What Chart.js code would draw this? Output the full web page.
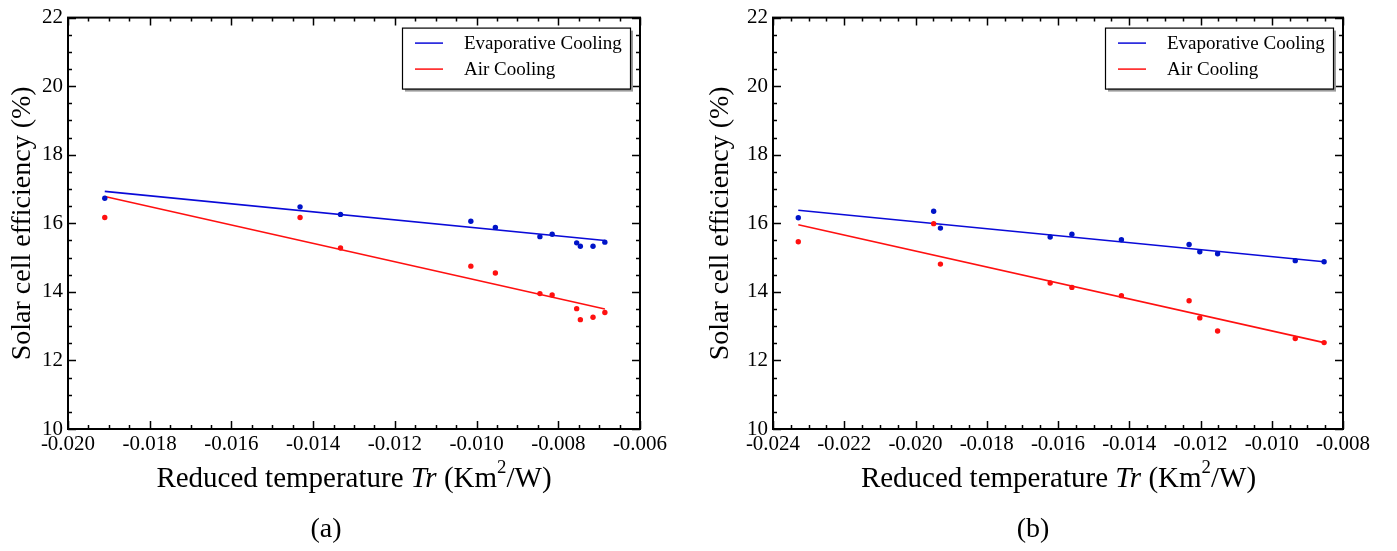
<!DOCTYPE html>
<html>
<head>
<meta charset="utf-8">
<script src="https://cdn.jsdelivr.net/npm/chart.js@4.4.1/dist/chart.umd.min.js"></script>
<style>
  html, body { margin: 0; padding: 0; background: #fff; }
  #wrap { position: relative; width: 1397px; height: 551px; overflow: hidden; font-family: "Liberation Serif", "DejaVu Serif", serif; }
  canvas { position: absolute; top: 0; }
  .xtitle { position: absolute; font-size: 29px; line-height: 29px; text-align: center; color: #000; white-space: nowrap; }
  .xtitle sup { font-size: 0.65em; position: relative; top: -0.2em; line-height: 0; }
  .caption { position: absolute; font-size: 28px; line-height: 28px; width: 80px; text-align: center; color: #000; }
</style>
</head>
<body>
<div id="wrap">
  <canvas id="chartA" width="698" height="551" style="left:0"></canvas>
  <canvas id="chartB" width="699" height="551" style="left:698px"></canvas>
  <div class="xtitle" style="left:68px; width:572px; top:463px">Reduced temperature <i>Tr</i> (Km<sup>2</sup>/W)</div>
  <div class="xtitle" style="left:773px; width:571px; top:463px">Reduced temperature <i>Tr</i> (Km<sup>2</sup>/W)</div>
  <div class="caption" style="left:286px; top:514px">(a)</div>
  <div class="caption" style="left:993px; top:514px">(b)</div>
</div>
<script>
// ---- dados (a) ----
const trA = [-0.0191, -0.01432, -0.01333, -0.01014, -0.00954, -0.00845, -0.00815, -0.00755, -0.00746, -0.00715, -0.00686];
const evapA = [16.73, 16.48, 16.26, 16.06, 15.88, 15.61, 15.68, 15.43, 15.33, 15.33, 15.45];
const airA = [16.17, 16.17, 15.28, 14.75, 14.55, 13.95, 13.91, 13.51, 13.19, 13.26, 13.40];
const fitTrA = [-0.0191, -0.00686];
const fitEvapA = [16.93, 15.50];
const fitAirA = [16.78, 13.50];

// ---- dados (b) ----
const trB = [-0.02329, -0.01949, -0.0193, -0.01622, -0.01561, -0.01422, -0.01232, -0.01202, -0.01152, -0.00934, -0.00853];
const evapB = [16.16, 16.35, 15.86, 15.60, 15.68, 15.52, 15.38, 15.17, 15.11, 14.91, 14.88];
const airB = [15.46, 15.99, 14.81, 14.26, 14.13, 13.89, 13.74, 13.24, 12.86, 12.64, 12.52];
const fitTrB = [-0.02329, -0.00853];
const fitEvapB = [16.38, 14.88];
const fitAirB = [15.96, 12.52];

const seriesNames = ['Evaporative Cooling', 'Air Cooling'];
const yTitle = 'Solar cell efficiency (%)';

const FONT = '"Liberation Serif", "DejaVu Serif", serif';
const BLUE = '#0a0ad8';
const BLUE_PT = '#0014c8';
const RED = '#ff1010';

function pares(xs, ys) {
  return xs.map((x, i) => ({ x: x, y: ys[i] }));
}

// ticks para dentro nos quatro lados + moldura + legenda
const molduraPlugin = {
  id: 'moldura',
  afterDraw(chart) {
    const ctx = chart.ctx;
    const a = chart.chartArea;
    const sx = chart.scales.x, sy = chart.scales.y;
    ctx.save();
    ctx.strokeStyle = '#000';
    ctx.lineWidth = 2;
    ctx.strokeRect(a.left, a.top, a.right - a.left, a.bottom - a.top);
    ctx.lineWidth = 1.5;
    ctx.beginPath();
    const xMinor = 0.0005, yMinor = 0.5;
    const nx = Math.round((sx.max - sx.min) / xMinor);
    for (let i = 0; i <= nx; i++) {
      const px = Math.round(sx.getPixelForValue(sx.min + i * xMinor)) + 0.5;
      const len = (i % 4 === 0) ? 8 : 4;
      ctx.moveTo(px, a.bottom); ctx.lineTo(px, a.bottom - len);
      ctx.moveTo(px, a.top); ctx.lineTo(px, a.top + len);
    }
    const ny = Math.round((sy.max - sy.min) / yMinor);
    for (let j = 0; j <= ny; j++) {
      const py = Math.round(sy.getPixelForValue(sy.min + j * yMinor)) + 0.5;
      const len = (j % 4 === 0) ? 8 : 4;
      ctx.moveTo(a.left, py); ctx.lineTo(a.left + len, py);
      ctx.moveTo(a.right, py); ctx.lineTo(a.right - len, py);
    }
    ctx.stroke();

    // legenda com sombra
    const w = 228, h = 61;
    const bx = a.right - 238, by = a.top + 10;
    ctx.fillStyle = '#9a9a9a';
    ctx.fillRect(bx + 3, by + 3, w, h);
    ctx.fillStyle = '#fff';
    ctx.fillRect(bx, by, w, h);
    ctx.strokeStyle = '#000';
    ctx.lineWidth = 1.2;
    ctx.strokeRect(bx + 0.5, by + 0.5, w, h);
    const linhas = chart.data.datasets.filter(d => d.showLine);
    linhas.forEach((d, k) => {
      const ly = by + 15 + k * 26;
      ctx.strokeStyle = d.borderColor;
      ctx.lineWidth = 1.5;
      ctx.beginPath();
      ctx.moveTo(bx + 13, ly + 0.5); ctx.lineTo(bx + 41, ly + 0.5);
      ctx.stroke();
      ctx.fillStyle = '#000';
      ctx.font = '19px ' + FONT;
      ctx.textBaseline = 'middle';
      ctx.textAlign = 'left';
      ctx.fillText(d.label, bx + 62, ly + 1);
    });
    ctx.restore();
  }
};

function criarGrafico(id, tr, evap, air, fitTr, fitEvap, fitAir, xMin, xMax, eixoEsq, padDir) {
  return new Chart(document.getElementById(id), {
    type: 'scatter',
    data: {
      datasets: [
        { label: 'pts-evap', data: pares(tr, evap), backgroundColor: BLUE_PT, borderColor: BLUE_PT, pointRadius: 2.7, pointBorderWidth: 0, showLine: false },
        { label: 'pts-air', data: pares(tr, air), backgroundColor: RED, borderColor: RED, pointRadius: 2.7, pointBorderWidth: 0, showLine: false },
        { label: seriesNames[0], data: pares(fitTr, fitEvap), borderColor: BLUE, borderWidth: 1.6, pointRadius: 0, showLine: true },
        { label: seriesNames[1], data: pares(fitTr, fitAir), borderColor: RED, borderWidth: 1.6, pointRadius: 0, showLine: true }
      ]
    },
    options: {
      responsive: false,
      animation: false,
      devicePixelRatio: 1,
      layout: { padding: { top: 16, right: padDir, bottom: 0, left: 0 } },
      plugins: { legend: { display: false }, tooltip: { enabled: false } },
      scales: {
        x: {
          type: 'linear', min: xMin, max: xMax,
          grid: { display: false, drawTicks: false },
          border: { display: true, color: '#000', width: 2 },
          ticks: {
            stepSize: 0.002, maxRotation: 0, autoSkip: false, padding: 3,
            color: '#000', font: { family: FONT, size: 21 },
            callback: v => v.toFixed(3)
          },
          afterFit: s => { s.height = 122; }
        },
        y: {
          type: 'linear', min: 10, max: 22,
          grid: { display: false, drawTicks: false },
          border: { display: true, color: '#000', width: 2 },
          ticks: {
            stepSize: 2, padding: 5,
            color: '#000', font: { family: FONT, size: 21 },
            callback: v => String(Math.round(v))
          },
          title: {
            display: true, text: yTitle, color: '#000',
            font: { family: FONT, size: 28 }, padding: { top: 6, bottom: 0 }
          },
          afterFit: s => { s.width = eixoEsq; }
        }
      }
    },
    plugins: [molduraPlugin]
  });
}

criarGrafico('chartA', trA, evapA, airA, fitTrA, fitEvapA, fitAirA, -0.020, -0.006, 68, 58);
criarGrafico('chartB', trB, evapB, airB, fitTrB, fitEvapB, fitAirB, -0.024, -0.008, 75, 54);
</script>
</body>
</html>
